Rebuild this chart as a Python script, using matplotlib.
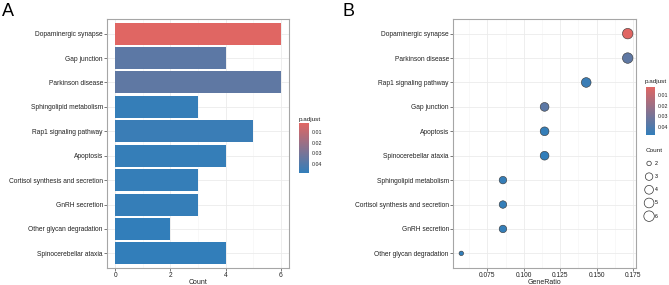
import numpy as np
import matplotlib
matplotlib.use("Agg")
import matplotlib.pyplot as plt
from matplotlib.colors import LinearSegmentedColormap, Normalize
from matplotlib.cm import ScalarMappable
from matplotlib.ticker import MultipleLocator

plt.rcParams['font.family'] = ['Liberation Sans', 'DejaVu Sans']

# panel A (barplot), top to bottom
bar_terms = ["Dopaminergic synapse", "Gap junction", "Parkinson disease",
             "Sphingolipid metabolism", "Rap1 signaling pathway", "Apoptosis",
             "Cortisol synthesis and secretion", "GnRH secretion",
             "Other glycan degradation", "Spinocerebellar ataxia"]
bar_counts = [6, 4, 6, 3, 5, 4, 3, 3, 2, 4]
bar_padj = [0.002, 0.037, 0.036, 0.047, 0.046, 0.047, 0.047, 0.047, 0.048, 0.048]

# panel B (dotplot), top to bottom
dot_terms = ["Dopaminergic synapse", "Parkinson disease", "Rap1 signaling pathway",
             "Gap junction", "Apoptosis", "Spinocerebellar ataxia",
             "Sphingolipid metabolism", "Cortisol synthesis and secretion",
             "GnRH secretion", "Other glycan degradation"]
dot_ratio = [0.1714, 0.1714, 0.1429, 0.1143, 0.1143, 0.1143, 0.0857, 0.0857, 0.0857, 0.0571]
dot_counts = [6, 6, 5, 4, 4, 4, 3, 3, 3, 2]
dot_padj = [0.002, 0.036, 0.046, 0.037, 0.047, 0.048, 0.047, 0.047, 0.047, 0.048]

cmap = LinearSegmentedColormap.from_list("padj", ["#e06663", "#327eba"])
norm = Normalize(vmin=min(bar_padj), vmax=max(bar_padj))

W, H = 669, 285
fig = plt.figure(figsize=(W / 100, H / 100), dpi=100)


def px_axes(x0, y0, x1, y1):
    return fig.add_axes([x0 / W, 1 - y1 / H, (x1 - x0) / W, (y1 - y0) / H])


def style(ax):
    for s in ax.spines.values():
        s.set_color("#a6a6a6")
        s.set_linewidth(0.8)
    ax.set_axisbelow(True)
    ax.grid(True, which="major", color="#ebebeb", lw=0.6)
    ax.grid(True, which="minor", axis="x", color="#f3f3f3", lw=0.4)
    ax.tick_params(axis="both", which="major", labelsize=4.8, length=2,
                   width=0.5, color="#444444", labelcolor="#222222", pad=1.0)
    ax.tick_params(axis="both", which="minor", length=0)


def size_of(c):
    d = 4.5 + 6 * np.sqrt((np.asarray(c) - 2) / 4)
    return (d * 0.72) ** 2


# ---- A ----
axA = px_axes(107, 19, 289, 268)
yA = np.arange(len(bar_terms))
axA.barh(yA, bar_counts, height=0.9, color=cmap(norm(bar_padj)), zorder=2)
axA.set_xlim(-0.3, 6.3)
axA.set_ylim(len(bar_terms) - 0.4, -0.6)
axA.set_yticks(yA)
axA.set_yticklabels(bar_terms)
axA.xaxis.set_major_locator(MultipleLocator(2))
axA.xaxis.set_minor_locator(MultipleLocator(1))
axA.set_xlabel("Count", fontsize=5.0, color="#222222")
axA.xaxis.set_label_coords(0.5, -0.043)
style(axA)
fig.text(2 / W, 1 - 16 / H, "A", fontsize=13)

caxA = px_axes(299, 123, 309, 173)
cbA = fig.colorbar(ScalarMappable(norm=norm, cmap=cmap), cax=caxA)
caxA.invert_yaxis()
cbA.set_ticks([0.01, 0.02, 0.03, 0.04])
cbA.ax.tick_params(labelsize=3.8, length=0, pad=2, labelcolor="#222222")
cbA.outline.set_visible(False)
fig.text(299 / W, 1 - 121 / H, "p.adjust", fontsize=4.6, color="#222222")

# ---- B ----
axB = px_axes(453, 19, 636, 268)
yB = np.arange(len(dot_terms))
axB.scatter(dot_ratio, yB, s=size_of(dot_counts), c=cmap(norm(dot_padj)),
            edgecolors="#333333", linewidths=0.4, zorder=3)
axB.set_xlim(0.0514, 0.1771)
axB.set_ylim(len(dot_terms) - 0.4, -0.6)
axB.set_yticks(yB)
axB.set_yticklabels(dot_terms)
axB.set_xticks([0.075, 0.100, 0.125, 0.150, 0.175])
axB.set_xticklabels(["0.075", "0.100", "0.125", "0.150", "0.175"])
axB.xaxis.set_minor_locator(MultipleLocator(0.0125))
axB.set_xlabel("GeneRatio", fontsize=5.0, color="#222222")
axB.xaxis.set_label_coords(0.5, -0.043)
style(axB)
fig.text(342 / W, 1 - 16 / H, "B", fontsize=13)

caxB = px_axes(646, 87, 655, 135)
cbB = fig.colorbar(ScalarMappable(norm=norm, cmap=cmap), cax=caxB)
caxB.invert_yaxis()
cbB.set_ticks([0.01, 0.02, 0.03, 0.04])
cbB.ax.tick_params(labelsize=3.8, length=0, pad=2, labelcolor="#222222")
cbB.outline.set_visible(False)
fig.text(645 / W, 1 - 83 / H, "p.adjust", fontsize=4.6, color="#222222")

legend_counts = [2, 3, 4, 5, 6]
handles = [axB.scatter([], [], s=size_of(c), facecolors="none",
                       edgecolors="#333333", linewidths=0.5) for c in legend_counts]
leg = axB.legend(handles, [str(c) for c in legend_counts], title="Count",
                 loc="upper left", bbox_to_anchor=(643 / W, 1 - 145 / H),
                 bbox_transform=fig.transFigure, frameon=False, fontsize=3.8,
                 title_fontsize=4.6, labelspacing=1.55, handletextpad=0.4,
                 borderpad=0, handlelength=1.3, alignment="left")
leg.get_title().set_color("#222222")

fig.savefig("out.png", dpi=100)
